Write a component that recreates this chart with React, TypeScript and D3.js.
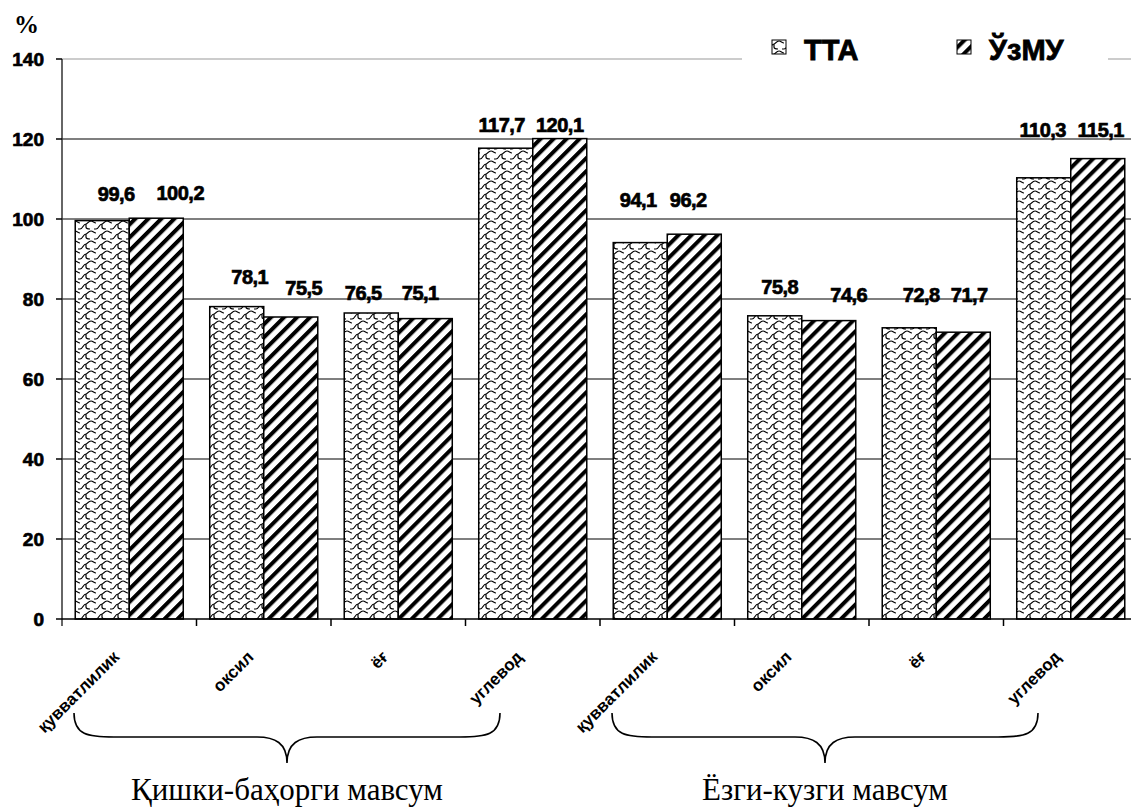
import React from "react";
import * as d3 from "d3";

// Nutrient indicators per season (percent of norm)
const categories = [
  "қувватлилик", "оксил", "ёғ", "углевод",
  "қувватлилик", "оксил", "ёғ", "углевод",
];
const seriesNames = ["ТТА", "ЎзМУ"];
const ttaValues = [99.6, 78.1, 76.5, 117.7, 94.1, 75.8, 72.8, 110.3];
const uzmuValues = [100.2, 75.5, 75.1, 120.1, 96.2, 74.6, 71.7, 115.1];
const yTicks = [0, 20, 40, 60, 80, 100, 120, 140];
const seasons = ["Қишки-баҳорги мавсум", "Ёзги-кузги мавсум"];
const seasonSpans = [[0, 3], [4, 7]];

// Hand-placed value label nudges (px): horizontal shift and lift above bar top
const labelDx = [
  [14, 13, -8, -4, -2, 5, 12, -1],
  [24, 13, -5, 0, -6, 20, 6, 3],
];
const labelLift = [
  [27, 30, 20, 23, 43, 29, 33, 48],
  [25, 29, 26, 14, 34, 26, 37, 29],
];

const W = 1131;
const H = 807;
const left = 62;
const step = 134.5;
const y0 = 619;
const yTop = 59;

const fmt = (v: number) => d3.format(".1f")(v).replace(".", ",");
const boldFont = "'Liberation Sans', Arial, sans-serif";
const serifFont = "'Liberation Serif', 'Times New Roman', serif";

export default function App() {
  const x = d3
    .scaleBand<number>()
    .domain(categories.map((_, i) => i))
    .range([left, left + step * categories.length])
    .padding(0);
  const sub = d3
    .scaleBand<number>()
    .domain([0, 1])
    .range([0, x.step()])
    .paddingInner(0)
    .paddingOuter(0.245);
  const y = d3.scaleLinear().domain([0, 140]).range([y0, yTop]);

  const series = [ttaValues, uzmuValues];
  const fills = ["url(#shingle)", "url(#stripes)"];

  const brace = (x1: number, x2: number) => {
    const top = 713;
    const mid = 737;
    const tip = 763;
    const cx = (x1 + x2) / 2;
    return [
      `M${x1},${top}`,
      `C${x1},${top + 22} ${x1 + 14},${mid} ${x1 + 40},${mid}`,
      `L${cx - 30},${mid}`,
      `C${cx - 12},${mid} ${cx},${mid + 6} ${cx},${tip}`,
      `C${cx},${mid + 6} ${cx + 12},${mid} ${cx + 30},${mid}`,
      `L${x2 - 40},${mid}`,
      `C${x2 - 14},${mid} ${x2},${top + 22} ${x2},${top}`,
    ].join(" ");
  };

  return (
    <svg width={W} height={H} style={{ position: "absolute", left: 0, top: 0, background: "#fff" }}>
      <defs>
        <pattern id="shingle" width="16" height="10" patternUnits="userSpaceOnUse">
          <rect width="16" height="10" fill="#fff" />
          <path
            d="M0,9 C3,9 3,4 6,4 C8,4 8,1 11,1 C13,1 14,3 16,3 M6,4 L6,7 C6,9 9,9 10,9 M16,9 L14,9"
            fill="none"
            stroke="#000"
            strokeWidth="1.2"
          />
        </pattern>
        <pattern
          id="stripes"
          width="9.2"
          height="9.2"
          patternUnits="userSpaceOnUse"
          patternTransform="rotate(45)"
        >
          <rect width="9.2" height="9.2" fill="#fff" />
          <line x1="2" y1="0" x2="2" y2="9.2" stroke="#000" strokeWidth="4" />
        </pattern>
      </defs>

      {/* gridlines */}
      {yTicks.filter((t) => t > 0).map((t) => (
        <line
          key={t}
          x1={left}
          x2={W}
          y1={y(t)}
          y2={y(t)}
          stroke={t === 140 ? "#9a9a9a" : "#000"}
          strokeWidth={1.2}
        />
      ))}

      {/* bars */}
      {series.map((vals, s) =>
        vals.map((v, i) => (
          <rect
            key={`${s}-${i}`}
            x={(x(i) as number) + (sub(s) as number)}
            y={y(v)}
            width={sub.bandwidth()}
            height={y0 - y(v)}
            fill={fills[s]}
            stroke="#000"
            strokeWidth={1.5}
          />
        ))
      )}

      {/* axes */}
      <line x1={left} x2={left} y1={yTop} y2={y0 + 7} stroke="#333" strokeWidth={1.5} />
      <line x1={left} x2={W} y1={y0} y2={y0} stroke="#000" strokeWidth={1.5} />
      {yTicks.map((t) => (
        <g key={t}>
          <line x1={left - 6} x2={left} y1={y(t)} y2={y(t)} stroke="#000" strokeWidth={1.5} />
          <text
            x={44}
            y={y(t)}
            dy="0.36em"
            textAnchor="end"
            fontFamily={boldFont}
            fontWeight="bold"
            fontSize={19}
            stroke="#000"
            strokeWidth={0.7}
          >
            {t}
          </text>
        </g>
      ))}
      {categories.map((_, i) => (
        <line
          key={i}
          x1={(x(i) as number) + step}
          x2={(x(i) as number) + step}
          y1={y0}
          y2={y0 + 7}
          stroke="#000"
          strokeWidth={1.5}
        />
      ))}

      {/* category labels */}
      {categories.map((c, i) => {
        const ax = (x(i) as number) + step / 2 - 9;
        const ay = 658;
        return (
          <text
            key={i}
            transform={`translate(${ax},${ay}) rotate(-45)`}
            textAnchor="end"
            fontFamily={boldFont}
            fontWeight="bold"
            fontSize={17}
          >
            {c}
          </text>
        );
      })}

      {/* value labels */}
      {series.map((vals, s) =>
        vals.map((v, i) => (
          <text
            key={`l${s}-${i}`}
            x={(x(i) as number) + (sub(s) as number) + sub.bandwidth() / 2 + labelDx[s][i]}
            y={y(v) - labelLift[s][i]}
            dy="0.36em"
            textAnchor="middle"
            fontFamily={boldFont}
            fontWeight="bold"
            fontSize={20}
            letterSpacing={-0.5}
            stroke="#000"
            strokeWidth={0.7}
          >
            {fmt(v)}
          </text>
        ))
      )}

      {/* "%" unit */}
      <text x={14} y={33} fontFamily={serifFont} fontWeight="bold" fontSize={25}>
        %
      </text>

      {/* legend */}
      <rect x={742} y={28} width={366} height={48} fill="#fff" />
      {seriesNames.map((n, s) => {
        const lx = [772, 957][s];
        return (
          <g key={n}>
            <rect x={lx} y={40} width={14} height={14} fill={fills[s]} stroke="#000" strokeWidth={1} />
            <text
              x={lx + 32}
              y={60}
              fontFamily={boldFont}
              fontWeight="bold"
              fontSize={29}
              stroke="#000"
              strokeWidth={0.8}
            >
              {n}
            </text>
          </g>
        );
      })}

      {/* season braces */}
      {seasons.map((name, k) => {
        const [a, b] = seasonSpans[k];
        const x1 = (x(a) as number) + 12;
        const x2 = (x(b) as number) + step - 100;
        const cx = (x1 + x2) / 2;
        return (
          <g key={name}>
            <path d={brace(x1, x2)} fill="none" stroke="#000" strokeWidth={1.6} />
            <text x={cx} y={800} textAnchor="middle" fontFamily={serifFont} fontSize={31}>
              {name}
            </text>
          </g>
        );
      })}
    </svg>
  );
}
